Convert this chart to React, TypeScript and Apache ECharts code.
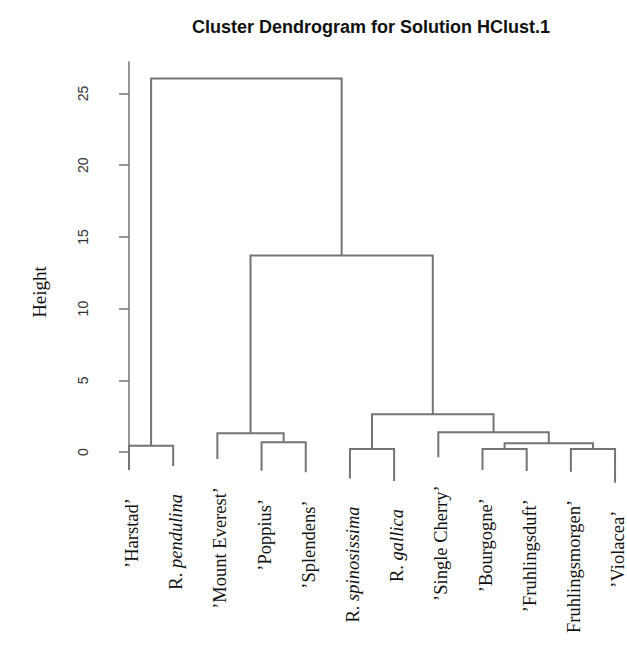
import React, { useEffect, useRef } from "react";
import * as echarts from "echarts";

// Leaf labels (left to right): upright part and italic part
const leafUpright = [
  "’Harstad’",
  "R. ",
  "’Mount Everest’",
  "’Poppius’",
  "’Splendens’",
  "R. ",
  "R. ",
  "’Single Cherry’",
  "’Bourgogne’",
  "’Fruhlingsduft’",
  "Fruhlingsmorgen’",
  "’Violacea’",
];
const leafItalic = ["", "pendulina", "", "", "", "spinosissima", "gallica", "", "", "", "", ""];

// Height at which each leaf's line ends
const leafEnd = [-1.26, -0.98, -0.49, -1.31, -1.42, -1.84, -2.03, -0.37, -1.26, -1.33, -1.38, -2.14];

// Merge table (R hclust style): negative = leaf (1-based), positive = earlier merge (1-based)
const mergeLeft = [-1, -4, -3, -6, -9, -11, 5, -8, 4, 3, 1];
const mergeRight = [-2, -5, 2, -7, -10, -12, 6, 7, 8, 9, 10];
const mergeHeight = [0.44, 0.68, 1.31, 0.21, 0.21, 0.21, 0.61, 1.37, 2.63, 13.7, 26.05];

const yTicks = [0, 5, 10, 15, 20, 25];

const titleText = "Cluster Dendrogram for Solution HClust.1";
const yName = "Height";

function buildLinks(): number[][] {
  const nodeX: number[] = [];
  const rows: number[][] = [];
  const pos = (c: number): [number, number] =>
    c < 0 ? [-c - 1, leafEnd[-c - 1]] : [nodeX[c - 1], mergeHeight[c - 1]];
  for (let k = 0; k < mergeHeight.length; k++) {
    const [xl, yl] = pos(mergeLeft[k]);
    const [xr, yr] = pos(mergeRight[k]);
    nodeX.push((xl + xr) / 2);
    rows.push([xl, yl, xr, yr, mergeHeight[k]]);
  }
  return rows;
}

const LINE = "#747474";
const SERIF = '"Liberation Serif", "Times New Roman", serif';
const SANS = '"Liberation Sans", Arial, sans-serif';

export default function App() {
  const ref = useRef<HTMLDivElement>(null);
  useEffect(() => {
    if (!ref.current) return;
    const chart = echarts.init(ref.current, undefined, { renderer: "svg" });
    const links = buildLinks();
    const leaves = leafEnd.map((v, i) => [i, v]);
    chart.setOption({
      animation: false,
      grid: { left: 110, right: 0, top: 62, bottom: 194 },
      xAxis: { type: "value", min: -0.43, max: 11.27, show: false },
      yAxis: {
        type: "value",
        min: 0,
        max: 27.2,
        axisLine: { show: true, lineStyle: { color: LINE, width: 1.5 } },
        axisTick: { show: true, length: 10, customValues: yTicks, lineStyle: { color: LINE, width: 1.5 } },
        axisLabel: {
          customValues: yTicks,
          rotate: 90,
          margin: 20,
          fontSize: 14,
          fontFamily: SANS,
          color: "#333",
        },
        splitLine: { show: false },
      },
      graphic: [
        {
          type: "text",
          x: 371,
          y: 27,
          style: {
            text: titleText,
            fontFamily: SANS,
            fontWeight: "bold",
            fontSize: 18,
            fill: "#111",
            align: "center",
            verticalAlign: "middle",
          },
        },
        {
          type: "text",
          x: 39,
          y: 292,
          rotation: Math.PI / 2,
          style: {
            text: yName,
            fontFamily: SERIF,
            fontSize: 19,
            fill: "#111",
            align: "center",
            verticalAlign: "middle",
          },
        },
      ],
      series: [
        {
          type: "custom",
          clip: false,
          silent: true,
          data: links,
          renderItem: (params: any, api: any) => {
            const xl = api.value(0), yl = api.value(1), xr = api.value(2), yr = api.value(3), h = api.value(4);
            const pts = [
              api.coord([xl, yl]),
              api.coord([xl, h]),
              api.coord([xr, h]),
              api.coord([xr, yr]),
            ];
            return {
              type: "polyline",
              shape: { points: pts },
              style: { stroke: LINE, lineWidth: 2, fill: "none" },
            };
          },
        },
        {
          type: "custom",
          clip: false,
          silent: true,
          data: leaves,
          renderItem: (params: any, api: any) => {
            const i = params.dataIndex;
            const p = api.coord([api.value(0), api.value(1)]);
            const it = leafItalic[i];
            const text = it ? `{n|${leafUpright[i]}}{i|${it}}` : `{n|${leafUpright[i]}}`;
            return {
              type: "text",
              x: p[0] + 3,
              y: p[1] + 28,
              rotation: Math.PI / 2,
              style: {
                text,
                align: "right",
                verticalAlign: "middle",
                fontFamily: SERIF,
                fontSize: 18.5,
                fill: "#111",
                rich: {
                  n: { fontFamily: SERIF, fontSize: 18.5, fill: "#111" },
                  i: { fontFamily: SERIF, fontSize: 18.5, fontStyle: "italic", fill: "#111" },
                },
              },
            };
          },
        },
      ],
    });
    return () => chart.dispose();
  }, []);
  return (
    <div
      ref={ref}
      style={{ position: "absolute", left: 0, top: 0, width: 627, height: 646, background: "#fff" }}
    />
  );
}
